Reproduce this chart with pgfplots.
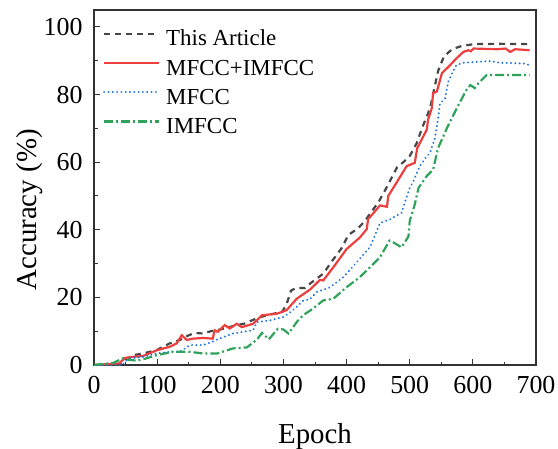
\documentclass[border=0pt]{standalone}
\usepackage{fontspec}
\setmainfont{Liberation Serif}
\usepackage{pgfplots}
\pgfplotsset{compat=1.18}
\definecolor{ArtGray}{HTML}{474747}
\definecolor{MixRed}{HTML}{EE3F3F}
\definecolor{MfBlue}{HTML}{1F74E0}
\definecolor{ImGreen}{HTML}{2FA35C}
\definecolor{Frame}{HTML}{333333}

\begin{document}
\begin{tikzpicture}
\begin{axis}[
  name=ax, scale only axis,
  width=442bp, height=355bp,
  xmin=0, xmax=700, ymin=0, ymax=105,
  xtick={0,100,...,700}, ytick={0,20,...,100},
  minor x tick num=1, minor y tick num=1,
  tick pos=left, tick align=inside,
  major tick length=6bp, minor tick length=3.5bp,
  every tick/.style={Frame, line width=1pt},
  axis line style={Frame, line width=1.3pt},
  /pgf/number format/assume math mode=true,
  ticklabel style={font=\fontsize{26}{26}\selectfont},
  xticklabel style={yshift=-8bp},
  yticklabel style={xshift=-8bp},
  xlabel={Epoch}, ylabel={Accuracy (\%)},
  label style={font=\fontsize{29}{29}\selectfont},
  xlabel style={at={(axis description cs:0.5,0)}, anchor=base, yshift=-78bp},
  ylabel style={at={(axis description cs:-0.129,0.437)}, anchor=base},
  legend cell align=left,
  legend style={draw=none, fill=none, inner sep=0pt,
    at={(axis description cs:0.02,0.953)}, anchor=north west,
    font=\fontsize{23}{23}\selectfont,
    nodes={inner sep=0pt, text height=19bp, text depth=10.2bp},
    column sep=6bp, row sep=0pt},
  legend image code/.code={\draw[#1] (0bp,7.5bp) -- (55bp,7.5bp);},
]
\addplot[ArtGray, line width=2.2pt, dash pattern=on 6bp off 5bp] coordinates {
(0,0)(40,0)(50,1.5)(62,2.9)(80,3.5)(100,4.5)(120,6.4)(136,7.4)(150,8.8)(160,9.5)
(173,9.3)(185,10)(200,10.5)(220,11.5)(239,12.3)(260,14)(280,15)(298,15.7)(305,18)
(312,22)(320,22.8)(334,22.8)(345,24.5)(353,25.6)(363,27)(378,31)(392,34.5)(403,38.5)
(418,40.4)(429,42.6)(440,45.5)(450,48)(462,52)(480,58.5)(490,60)(500,61.8)(511,65.6)
(520,70.3)(529,74.4)(534,77.4)(538,81)(545,87)(554,91.2)(567,93.4)(583,94.4)(602,94.9)
(640,95)(690,94.9)};
\addlegendentry{This Article}
\addplot[MixRed, line width=2.2pt] coordinates {
(0,0)(25,0.3)(40,0.5)(49,2.1)(62,2.4)(78,2.7)(100,4.4)(120,5.4)(131,6.4)(139,8.8)
(147,7.4)(157,7.8)(173,8)(188,7.8)(191,10.3)(196,9.8)(207,11.8)(215,10.8)(226,12.2)
(234,11.2)(252,12.2)(266,14.7)(290,15.2)(305,16.2)(321,19.6)(342,22.3)(358,25.2)
(363,25)(379,28.9)(400,34.3)(421,37.7)(432,40.2)(434,43.1)(453,47.2)(464,46.8)(466,50)
(479,53.9)(495,58.8)(508,59.8)(512,64.2)(527,69.6)(529,72.5)(535,76)(537,80.4)
(543,80.9)(551,86.3)(564,88.7)(574,90.7)(585,92.6)(593,93.1)(597,92.8)(601,93.6)
(638,93.4)(652,93.6)(659,92.6)(667,93.4)(690,93.1)};
\addlegendentry{MFCC+IMFCC}
\addplot[MfBlue, line width=2.2pt, line cap=round, dash pattern=on 0.01bp off 4.3bp] coordinates {
(0,0)(45,0)(49,1)(57,2)(78,2.4)(100,3.5)(120,3.9)(136,3.9)(152,5.9)(173,5.9)(188,6.9)
(193,7.4)(220,9.3)(236,9.8)(252,10.3)(258,12.7)(279,13.2)(300,14.2)(310,15.5)
(321,17.2)(331,19)(342,19.5)(353,21.6)(374,23)(395,26)(416,30.4)(437,34.8)(448,39.7)
(453,42)(469,43.1)(487,45)(493,48.5)(500,52.4)(506,54.4)(516,58.8)(527,61.8)
(532,62.7)(540,67.1)(545,73)(548,77.4)(556,78.9)(561,83.8)(567,86.3)(574,88.7)
(585,89.4)(627,89.9)(643,89.4)(680,89.2)(690,88.7)};
\addlegendentry{MFCC}
\addplot[ImGreen, line width=2.2pt, dash pattern=on 9bp off 3bp on 2bp off 3bp] coordinates {
(0,0)(30,0.6)(46,2)(56,1.5)(68,1.3)(80,1.8)(99,2.9)(125,3.9)(152,3.9)(173,3.4)
(195,3.4)(220,4.9)(242,5.2)(258,7.5)(266,9.5)(277,7.6)(291,10.7)(300,10.5)(308,9.3)
(321,12.7)(331,14.7)(347,16.7)(363,19.1)(379,19.6)(400,23)(421,26)(437,28.9)
(453,31.9)(461,34.5)(468,36.8)(472,36.5)(487,34.8)(498,38)(500,42.6)(508,47.5)
(514,52.4)(527,55.9)(537,57.8)(545,64.2)(559,70.1)(572,75)(580,77.9)(590,81.4)
(596,82.8)(603,81.9)(609,83.4)(622,85.8)(690,85.8)};
\addlegendentry{IMFCC}
\end{axis}
\pgfresetboundingbox
\path ([shift={(-94bp,-83bp)}]ax.south west) rectangle ([shift={(22bp,10bp)}]ax.north east);
\end{tikzpicture}
\end{document}
